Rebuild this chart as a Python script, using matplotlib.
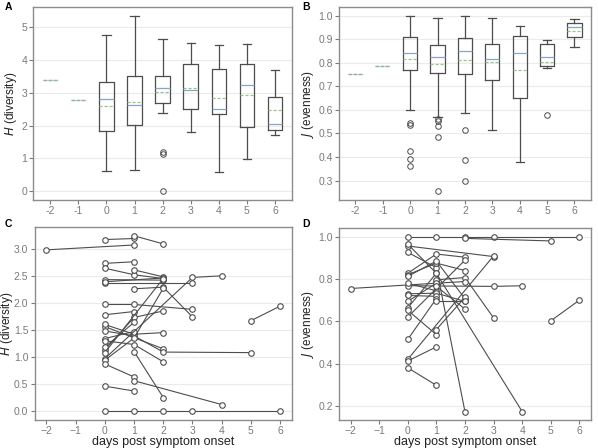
import numpy as np
import matplotlib
matplotlib.use("Agg")
import matplotlib.pyplot as plt

plt.rcParams['font.family'] = ['Liberation Sans', 'DejaVu Sans']

# ---- panel A / B : box summaries per day ----
box_days = [0, 1, 2, 3, 4, 5, 6]
single_days = [-2, -1]
day_labels = ["-2", "-1", "0", "1", "2", "3", "4", "5", "6"]

h_whislo = [0.62, 0.63, 2.39, 1.80, 0.59, 0.98, 1.71]
h_q1 = [1.84, 2.03, 2.69, 2.50, 2.34, 1.96, 1.87]
h_med = [2.82, 2.63, 3.14, 3.09, 2.51, 3.24, 2.04]
h_mean = [2.59, 2.71, 3.04, 3.14, 2.84, 2.94, 2.48]
h_q3 = [3.34, 3.51, 3.51, 3.88, 3.74, 3.88, 2.87]
h_whishi = [4.78, 5.36, 4.66, 4.52, 4.46, 4.48, 3.71]
h_fliers = [[], [], [1.14, 1.20, 0.0], [], [], [], []]
h_single = [3.40, 2.77]

j_whislo = [0.601, 0.572, 0.585, 0.514, 0.377, 0.780, 0.868]
j_q1 = [0.769, 0.755, 0.751, 0.728, 0.651, 0.787, 0.910]
j_med = [0.842, 0.827, 0.852, 0.817, 0.842, 0.825, 0.951]
j_mean = [0.817, 0.796, 0.811, 0.806, 0.768, 0.803, 0.937]
j_q3 = [0.910, 0.876, 0.904, 0.880, 0.913, 0.880, 0.970]
j_whishi = [1.0, 0.993, 1.0, 0.993, 0.955, 0.899, 0.985]
j_fliers = [[0.545, 0.538, 0.425, 0.390, 0.363],
            [0.563, 0.555, 0.531, 0.483, 0.256],
            [0.513, 0.389, 0.297], [], [], [0.579], []]
j_single = [0.752, 0.787]

# ---- panel C / D : per-patient trajectories (day, value) ----
h_traj = [
    ([-2, 1], [2.98, 3.07]),
    ([0, 1], [3.17, 3.19]),
    ([1, 2], [3.24, 3.09]),
    ([0, 1], [2.73, 2.76]),
    ([0, 1, 2], [2.64, 2.52, 2.45]),
    ([1, 2], [2.61, 2.48]),
    ([0, 2], [2.43, 2.42]),
    ([0, 3], [2.36, 2.36]),
    ([0, 2], [2.39, 2.46]),
    ([1, 2, 3], [2.26, 2.29, 1.74]),
    ([0, 1, 3], [1.97, 1.97, 1.88]),
    ([0, 1], [1.78, 1.84]),
    ([0, 1, 2], [1.13, 1.73, 1.85]),
    ([0, 2], [1.56, 1.15]),
    ([0, 1, 2, 5], [1.48, 1.39, 1.09, 1.08]),
    ([0, 1, 2], [1.60, 1.42, 1.45]),
    ([0, 1], [1.34, 1.47]),
    ([0, 1, 2], [1.30, 1.23, 0.91]),
    ([0, 1], [1.18, 1.64]),
    ([0, 2], [1.08, 2.45]),
    ([0, 3, 4], [0.97, 2.47, 2.50]),
    ([0, 1, 2], [0.94, 1.35, 2.27]),
    ([1, 2], [1.10, 0.25]),
    ([0, 1], [0.87, 0.63]),
    ([1, 4], [0.56, 0.12]),
    ([0, 1], [0.46, 0.37]),
    ([0, 1, 2, 3, 6], [0.0, 0.0, 0.0, 0.0, 0.0]),
    ([5, 6], [1.67, 1.94]),
]

j_traj = [
    ([-2, 1], [0.755, 0.780]),
    ([0, 1, 2, 3, 6], [1.0, 1.0, 1.0, 1.0, 1.0]),
    ([2, 5], [0.992, 0.980]),
    ([0, 3], [0.956, 0.906]),
    ([0, 1, 4], [0.965, 0.827, 0.173]),
    ([0, 1, 2], [0.926, 0.854, 0.173]),
    ([0, 1, 2], [0.827, 0.918, 0.903]),
    ([0, 1, 2], [0.820, 0.875, 0.840]),
    ([0, 1, 2], [0.812, 0.885, 0.707]),
    ([0, 3, 4], [0.768, 0.765, 0.768]),
    ([1, 2, 3], [0.796, 0.807, 0.616]),
    ([0, 1], [0.780, 0.744]),
    ([0, 1, 2], [0.730, 0.733, 0.694]),
    ([0, 1], [0.722, 0.718]),
    ([0, 1, 2], [0.694, 0.780, 0.788]),
    ([0, 1], [0.663, 0.827]),
    ([0, 1], [0.652, 0.537]),
    ([0, 2], [0.620, 0.889]),
    ([0, 1], [0.514, 0.707]),
    ([0, 3], [0.420, 0.909]),
    ([0, 1], [0.412, 0.479]),
    ([0, 1], [0.380, 0.297]),
    ([1, 2], [0.561, 0.713]),
    ([1, 2], [0.694, 0.694]),
    ([1, 2], [0.765, 0.658]),
    ([5, 6], [0.602, 0.700]),
]

edge = "#4d4d4d"
spine_col = "#8c8c8c"
tick_col = "#7a7a7a"
grid_col = "#ebebeb"
med_col = "#86a6c8"
mean_col = "#9ec28c"
lab_col = "#222222"


def style(ax):
    for s in ax.spines.values():
        s.set_color(spine_col)
        s.set_linewidth(1.0)
    ax.tick_params(colors=tick_col, labelsize=7.5, length=3, width=0.8, pad=1.5)
    ax.grid(axis="y", color=grid_col, linewidth=0.8)
    ax.set_axisbelow(True)


def box_panel(ax, whislo, q1, med, mean, q3, whishi, fliers, single):
    stats = []
    for i in range(len(box_days)):
        stats.append(dict(whislo=whislo[i], q1=q1[i], med=med[i], mean=mean[i],
                          q3=q3[i], whishi=whishi[i], fliers=fliers[i]))
    ax.bxp(stats, positions=box_days, widths=0.52, showmeans=True, meanline=True,
           boxprops=dict(color=edge, linewidth=0.9),
           whiskerprops=dict(color=edge, linewidth=0.9),
           capprops=dict(color=edge, linewidth=0.9), capwidths=0.3,
           medianprops=dict(color=med_col, linewidth=0.9),
           meanprops=dict(color=mean_col, linewidth=0.9, linestyle=(0, (2.5, 1.5))),
           flierprops=dict(marker="o", markersize=4, markerfacecolor="none",
                           markeredgecolor=edge, markeredgewidth=0.7),
           manage_ticks=False)
    stats1 = [dict(whislo=v, q1=v, med=v, mean=v, q3=v, whishi=v, fliers=[])
              for v in single]
    ax.bxp(stats1, positions=single_days, widths=0.55, showmeans=True, meanline=True,
           showcaps=False,
           boxprops=dict(linewidth=0),
           whiskerprops=dict(linewidth=0),
           medianprops=dict(color="#c9d6cf", linewidth=0.9),
           meanprops=dict(color="#8fb59a", linewidth=1.0, linestyle=(0, (2.5, 1.2))),
           manage_ticks=False)
    ax.set_xticks(single_days + box_days)
    ax.set_xticklabels(day_labels)
    ax.set_xlim(-2.6, 6.6)
    style(ax)


def traj_panel(ax, traj):
    for xs, ys in traj:
        ax.plot(xs, ys, color=edge, linewidth=0.8, marker="o", markersize=4,
                markerfacecolor="white", markeredgecolor=edge, markeredgewidth=0.8)
    ax.set_xticks(range(-2, 7))
    ax.set_xlim(-2.4, 6.4)
    ax.set_xlabel("days post symptom onset", fontsize=9, color=lab_col, labelpad=0)
    style(ax)


fig = plt.figure(figsize=(5.98, 4.48), dpi=100)
axA = fig.add_axes([0.056, 0.554, 0.432, 0.430])
axB = fig.add_axes([0.567, 0.554, 0.421, 0.430])
axC = fig.add_axes([0.058, 0.062, 0.430, 0.431])
axD = fig.add_axes([0.567, 0.062, 0.421, 0.429])

box_panel(axA, h_whislo, h_q1, h_med, h_mean, h_q3, h_whishi, h_fliers, h_single)
axA.set_ylim(-0.27, 5.62)
axA.set_yticks([0, 1, 2, 3, 4, 5])
axA.set_ylabel("$\\it{H}$ (diversity)", fontsize=8.5, color=lab_col)
axA.yaxis.set_label_coords(-0.058, 0.5)

box_panel(axB, j_whislo, j_q1, j_med, j_mean, j_q3, j_whishi, j_fliers, j_single)
axB.set_ylim(0.218, 1.037)
axB.set_yticks([0.3, 0.4, 0.5, 0.6, 0.7, 0.8, 0.9, 1.0])
axB.set_ylabel("$\\it{J}$ (evenness)", fontsize=8.5, color=lab_col)
axB.yaxis.set_label_coords(-0.091, 0.5)

traj_panel(axC, h_traj)
axC.set_ylim(-0.17, 3.40)
axC.set_yticks([0, 0.5, 1.0, 1.5, 2.0, 2.5, 3.0])
axC.set_ylabel("$\\it{H}$ (diversity)", fontsize=8.5, color=lab_col)
axC.yaxis.set_label_coords(-0.078, 0.5)

traj_panel(axD, j_traj)
axD.set_ylim(0.132, 1.041)
axD.set_yticks([0.2, 0.4, 0.6, 0.8, 1.0])
axD.set_ylabel("$\\it{J}$ (evenness)", fontsize=8.5, color=lab_col)
axD.yaxis.set_label_coords(-0.091, 0.5)

for lab, x, y in [("A", 0.008, 0.996), ("B", 0.505, 0.996),
                  ("C", 0.008, 0.511), ("D", 0.505, 0.511)]:
    fig.text(x, y, lab, fontsize=7.5, fontweight="bold", va="top")

fig.savefig("out.png", dpi=100)
